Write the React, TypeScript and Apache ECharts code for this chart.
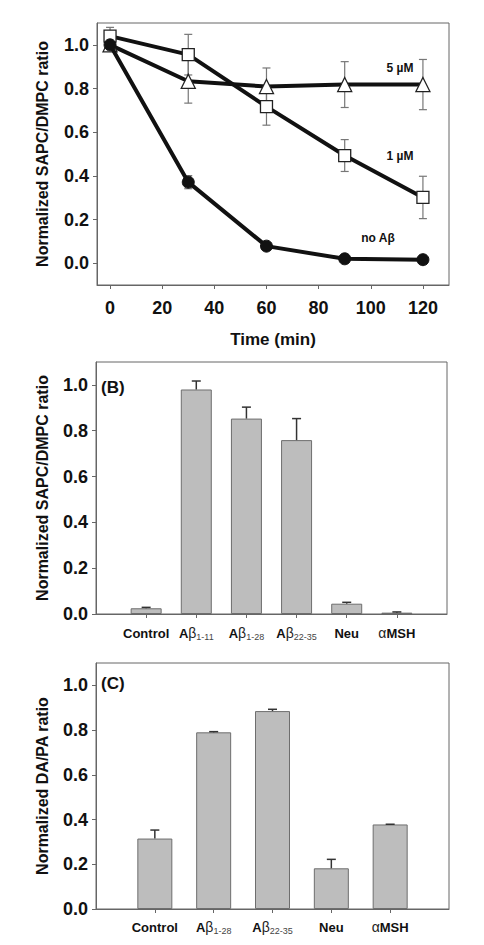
import React, { useEffect, useRef } from 'react';
import * as echarts from 'echarts';

const FONT = '"Liberation Sans", Arial, Helvetica, sans-serif';
const TXT = '#111';
const AXIS = '#666';

// Panel A: time course
const timeMin = [0, 30, 60, 90, 120];
const timeTicks = [0, 20, 40, 60, 80, 100, 120];
const oneMicroM = [1.04, 0.955, 0.717, 0.493, 0.301];
const oneMicroMErr = [0.04, 0.093, 0.085, 0.073, 0.097];
const fiveMicroM = [1.0, 0.833, 0.809, 0.818, 0.818];
const fiveMicroMErr = [0.02, 0.1, 0.085, 0.105, 0.115];
const noAbeta = [1.0, 0.371, 0.078, 0.02, 0.016];
const noAbetaErr = [0.01, 0.03, 0.01, 0.008, 0.008];

// Panel B
const categoriesB = ['Control', 'Aβ1-11', 'Aβ1-28', 'Aβ22-35', 'Neu', 'αMSH'];
const valuesB = [0.025, 0.98, 0.853, 0.759, 0.045, 0.006];
const errorsB = [0.004, 0.037, 0.05, 0.094, 0.006, 0.003];

// Panel C
const categoriesC = ['Control', 'Aβ1-28', 'Aβ22-35', 'Neu', 'αMSH'];
const valuesC = [0.315, 0.79, 0.885, 0.182, 0.378];
const errorsC = [0.038, 0.003, 0.008, 0.04, 0.001];

const yTicks = [0, 0.2, 0.4, 0.6, 0.8, 1.0];

function richLabel(name: string): string {
  const m = name.match(/^Aβ(.+)$/);
  if (m) return `{a|A}{b|β}{s|${m[1]}}`;
  if (name.startsWith('α')) return `{b|α}{a|${name.slice(1)}}`;
  return `{a|${name}}`;
}

const rich = {
  a: { fontFamily: FONT, fontSize: 13, fontWeight: 'bold', color: TXT, lineHeight: 16 },
  b: { fontFamily: FONT, fontSize: 14, fontWeight: 'normal', color: '#222', lineHeight: 16 },
  s: { fontFamily: FONT, fontSize: 9, fontWeight: 'normal', color: '#444', lineHeight: 10, verticalAlign: 'bottom' },
};

function errSeries(xi: number, data: number[][], color: string, lw: number, capHalf: number, oneSided: boolean, z: number) {
  return {
    type: 'custom',
    xAxisIndex: xi,
    yAxisIndex: xi,
    z,
    silent: true,
    data,
    encode: { x: 0, y: 1 },
    renderItem: (_params: any, api: any) => {
      const x = api.value(0);
      const y = api.value(1);
      const e = api.value(2);
      const lo = api.coord([x, oneSided ? y : y - e]);
      const hi = api.coord([x, y + e]);
      const style = { stroke: color, lineWidth: lw };
      const children: any[] = [
        { type: 'line', shape: { x1: hi[0], y1: hi[1], x2: lo[0], y2: lo[1] }, style },
        { type: 'line', shape: { x1: hi[0] - capHalf, y1: hi[1], x2: hi[0] + capHalf, y2: hi[1] }, style },
      ];
      if (!oneSided) {
        children.push({ type: 'line', shape: { x1: lo[0] - capHalf, y1: lo[1], x2: lo[0] + capHalf, y2: lo[1] }, style });
      }
      return { type: 'group', children };
    },
  };
}

function yAxisCfg(gi: number, min: number, max: number, name: string, nameGap: number) {
  return {
    gridIndex: gi,
    type: 'value',
    min,
    max,
    axisLine: { show: true, onZero: false, lineStyle: { color: AXIS, width: 1 } },
    axisTick: { show: true, inside: false, length: 4, customValues: yTicks, lineStyle: { color: AXIS } },
    axisLabel: {
      customValues: yTicks,
      formatter: (v: number) => v.toFixed(1),
      fontFamily: FONT,
      fontSize: 18,
      fontWeight: 'bold',
      color: TXT,
      margin: 8,
    },
    splitLine: { show: false },
    name,
    nameLocation: 'middle',
    nameGap,
    nameRotate: 90,
    nameTextStyle: { fontFamily: FONT, fontSize: 16, fontWeight: 'bold', color: TXT },
  };
}

function catXAxis(gi: number, cats: string[], margin: number) {
  const idx = cats.map((_, i) => i + 1);
  return {
    gridIndex: gi,
    type: 'value',
    min: 0,
    max: cats.length + 1,
    axisLine: { show: true, onZero: false, lineStyle: { color: AXIS, width: 1 } },
    axisTick: { show: true, inside: false, length: 4, customValues: idx, lineStyle: { color: AXIS } },
    axisLabel: {
      customValues: idx,
      formatter: (v: number) => richLabel(cats[Math.round(v) - 1] ?? ''),
      rich,
      margin,
    },
    splitLine: { show: false },
  };
}

export default function App() {
  const ref = useRef<HTMLDivElement>(null);
  useEffect(() => {
    if (!ref.current) return;
    const chart = echarts.init(ref.current, undefined, { renderer: 'svg' });
    const gridBase = { show: true, borderColor: AXIS, borderWidth: 1, backgroundColor: 'transparent', containLabel: false };
    const option: any = {
      animation: false,
      backgroundColor: '#fff',
      grid: [
        { ...gridBase, left: 97, top: 23, width: 352, height: 262 },
        { ...gridBase, left: 96, top: 362, width: 351, height: 252 },
        { ...gridBase, left: 96, top: 663, width: 353, height: 246 },
      ],
      xAxis: [
        {
          gridIndex: 0,
          type: 'value',
          min: -5,
          max: 130,
          axisLine: { show: true, onZero: false, lineStyle: { color: AXIS, width: 1 } },
          axisTick: { show: true, inside: false, length: 4, customValues: timeTicks, lineStyle: { color: AXIS } },
          axisLabel: { customValues: timeTicks, fontFamily: FONT, fontSize: 18, fontWeight: 'bold', color: TXT, margin: 14 },
          splitLine: { show: false },
          name: 'Time (min)',
          nameLocation: 'middle',
          nameGap: 46,
          nameTextStyle: { fontFamily: FONT, fontSize: 17, fontWeight: 'bold', color: TXT },
        },
        catXAxis(1, categoriesB, 11),
        catXAxis(2, categoriesC, 10),
      ],
      yAxis: [
        yAxisCfg(0, -0.1, 1.1, 'Normalized SAPC/DMPC ratio', 47),
        yAxisCfg(1, 0, 1.1, 'Normalized SAPC/DMPC ratio', 46),
        yAxisCfg(2, 0, 1.1, 'Normalized DA/PA ratio', 46),
      ],
      series: [
        errSeries(0, timeMin.map((t, i) => [t, oneMicroM[i], oneMicroMErr[i]]), '#777', 1.2, 4, false, 1),
        errSeries(0, timeMin.map((t, i) => [t, fiveMicroM[i], fiveMicroMErr[i]]), '#777', 1.2, 4, false, 1),
        errSeries(0, timeMin.map((t, i) => [t, noAbeta[i], noAbetaErr[i]]), '#777', 1.2, 4, false, 1),
        {
          type: 'line',
          name: '5 µM',
          xAxisIndex: 0,
          yAxisIndex: 0,
          z: 3,
          data: timeMin.map((t, i) => [t, fiveMicroM[i]]),
          lineStyle: { color: '#111', width: 4 },
          symbol: 'triangle',
          symbolSize: 14,
          itemStyle: { color: '#fff', borderColor: '#222', borderWidth: 1.3 },
        },
        {
          type: 'line',
          name: '1 µM',
          xAxisIndex: 0,
          yAxisIndex: 0,
          z: 4,
          data: timeMin.map((t, i) => [t, oneMicroM[i]]),
          lineStyle: { color: '#111', width: 4 },
          symbol: 'rect',
          symbolSize: 12,
          itemStyle: { color: '#fff', borderColor: '#222', borderWidth: 1.3 },
        },
        {
          type: 'line',
          name: 'no Aβ',
          xAxisIndex: 0,
          yAxisIndex: 0,
          z: 5,
          data: timeMin.map((t, i) => [t, noAbeta[i]]),
          lineStyle: { color: '#111', width: 4 },
          symbol: 'circle',
          symbolSize: 12,
          itemStyle: { color: '#111', borderColor: '#111', borderWidth: 1 },
        },
        {
          type: 'bar',
          xAxisIndex: 1,
          yAxisIndex: 1,
          barWidth: 31,
          data: valuesB.map((v, i) => [i + 1, v]),
          itemStyle: { color: '#bdbdbd', borderColor: '#6e6e6e', borderWidth: 1 },
          z: 2,
        },
        errSeries(1, valuesB.map((v, i) => [i + 1, v, errorsB[i]]), '#333', 1.5, 4.5, true, 3),
        {
          type: 'bar',
          xAxisIndex: 2,
          yAxisIndex: 2,
          barWidth: 35,
          data: valuesC.map((v, i) => [i + 1, v]),
          itemStyle: { color: '#bdbdbd', borderColor: '#6e6e6e', borderWidth: 1 },
          z: 2,
        },
        errSeries(2, valuesC.map((v, i) => [i + 1, v, errorsC[i]]), '#333', 1.5, 4.5, true, 3),
      ],
      graphic: [
        { type: 'text', x: 400, y: 68, style: { text: '5 µM', font: `bold 12px ${FONT}`, fill: TXT, textAlign: 'center', textVerticalAlign: 'middle' } },
        { type: 'text', x: 400, y: 156, style: { text: '1 µM', font: `bold 12px ${FONT}`, fill: TXT, textAlign: 'center', textVerticalAlign: 'middle' } },
        { type: 'text', x: 378, y: 238, style: { text: 'no Aβ', font: `bold 12px ${FONT}`, fill: TXT, textAlign: 'center', textVerticalAlign: 'middle' } },
        { type: 'text', x: 101, y: 387, style: { text: '(B)', font: `bold 17px ${FONT}`, fill: TXT, textAlign: 'left', textVerticalAlign: 'middle' } },
        { type: 'text', x: 101, y: 683, style: { text: '(C)', font: `bold 17px ${FONT}`, fill: TXT, textAlign: 'left', textVerticalAlign: 'middle' } },
      ],
    };
    chart.setOption(option);
    return () => chart.dispose();
  }, []);
  return (
    <div
      ref={ref}
      style={{ position: 'fixed', left: 0, top: 0, width: 484, height: 945, background: '#fff' }}
    />
  );
}
